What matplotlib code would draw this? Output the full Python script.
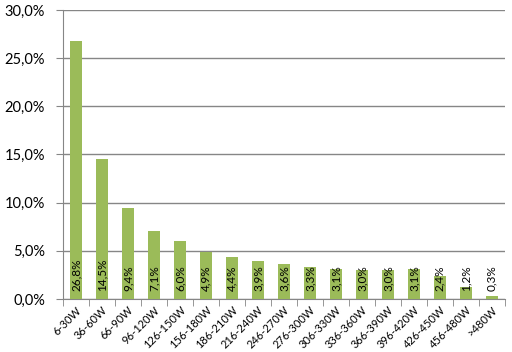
import matplotlib.pyplot as plt
from matplotlib.ticker import FuncFormatter

categories = ['6-30W', '36-60W', '66-90W', '96-120W', '126-150W', '156-180W',
              '186-210W', '216-240W', '246-270W', '276-300W', '306-330W',
              '336-360W', '366-390W', '396-420W', '426-450W', '456-480W', '>480W']
shares = [26.8, 14.5, 9.4, 7.1, 6.0, 4.9, 4.4, 3.9, 3.6, 3.3, 3.1,
          3.0, 3.0, 3.1, 2.4, 1.2, 0.3]

plt.rcParams['font.family'] = ['Lato', 'DejaVu Sans']

fig = plt.figure(figsize=(5.12, 3.52), dpi=100)
ax = fig.add_axes([0.123, 0.1506, 0.863, 0.821])

x = list(range(len(categories)))
ax.bar(x, shares, width=0.45, color='#9BBB59', zorder=3)

# etiquettes en bas des barres
for xi, v in zip(x, shares):
    ax.annotate(('%.1f%%' % v).replace('.', ','), (xi, 0), xytext=(0, 6),
                textcoords='offset points', rotation=90, ha='center', va='bottom',
                fontsize=8.5, zorder=4)

ax.set_xlim(-0.5, len(categories) - 0.5)
ax.set_ylim(0, 30)
ax.set_yticks([0, 5, 10, 15, 20, 25, 30])
ax.yaxis.set_major_formatter(FuncFormatter(lambda v, p: ('%.1f%%' % v).replace('.', ',')))
ax.grid(axis='y', color='#868686', lw=1, zorder=0)

ax.set_xticks(x)
ax.set_xticklabels(categories, rotation=45, ha='right', rotation_mode='anchor', fontsize=8)
ax.set_xticks([i - 0.5 for i in range(len(categories) + 1)], minor=True)
ax.tick_params(axis='x', which='major', length=0, pad=4)
ax.tick_params(axis='x', which='minor', length=5, color='#868686')
ax.tick_params(axis='y', length=5, color='#868686', labelsize=10.5, pad=8)

for s in ['top', 'right']:
    ax.spines[s].set_visible(False)
for s in ['left', 'bottom']:
    ax.spines[s].set_color('#868686')

fig.savefig('out.png', dpi=100)
